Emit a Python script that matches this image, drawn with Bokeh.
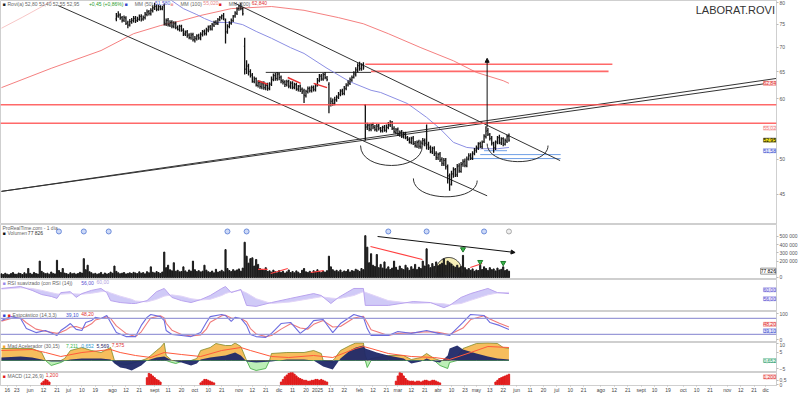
import numpy as np
from bokeh.plotting import figure
from bokeh.layouts import column
from bokeh.models import (Range1d, FixedTicker, Label, Arrow, NormalHead, Span,
                          NumeralTickFormatter)
from bokeh.embed import file_html
from bokeh.resources import INLINE

FONT = "Liberation Sans"

# ---------------- price bars (daily, bar index from 13 May 2024) ----------------
first_bar = 60
opens = [
    76.2, 76.9, 77.1, 76.5, 75.9, 76.4, 75.3, 74.9, 75.5, 75.8,
    76.4, 75.9, 76.1, 76.8, 76.2, 76.5, 77.2, 77.9, 77.4, 78.1,
    78.7, 79.2, 78.5, 79.1, 78.5, 79.3, 75.1, 75.9, 74.8, 75.5,
    74.5, 75.2, 74.3, 73.8, 74.6, 73.7, 72.8, 73.3, 72.6, 72.0,
    72.7, 71.5, 71.8, 72.5, 71.9, 72.7, 73.4, 72.9, 73.7, 74.4,
    73.9, 74.8, 75.5, 75.1, 76.1, 76.5, 77.0, 75.8, 73.4, 74.5,
    75.2, 75.8, 76.9, 77.5, 78.6, 79.3, 78.6, 70.2, 65.6, 66.2,
    65.1, 64.4, 63.1, 63.7, 62.4, 63.0, 62.1, 62.8, 61.9, 62.5,
    61.8, 62.7, 63.5, 64.3, 63.7, 64.6, 64.0, 63.2, 63.1, 62.5,
    63.2, 62.2, 62.9, 62.0, 62.6, 61.7, 62.3, 61.7, 61.4, 60.5,
    61.2, 61.9, 61.4, 62.1, 61.6, 62.5, 63.3, 64.2, 63.6, 64.5,
    63.8, 62.6, 59.0, 59.6, 59.0, 59.7, 60.3, 60.7, 61.4, 60.9,
    61.8, 62.5, 62.8, 63.4, 64.0, 64.5, 65.3, 66.3, 65.6, 66.4,
    58.8, 55.1, 55.4, 54.7, 55.5, 55.0, 54.6, 55.3, 54.8, 54.4,
    55.1, 54.5, 55.0, 55.4, 55.9, 54.8, 54.2, 54.7, 53.8, 54.3,
    53.5, 54.0, 53.3, 53.1, 52.6, 53.3, 52.4, 52.0, 52.7, 51.9,
    52.4, 52.8, 52.6, 52.3, 51.7, 51.1, 51.7, 50.9, 50.2, 50.8,
    50.0, 49.3, 49.9, 48.8, 47.5, 46.4, 47.8, 48.5, 47.7, 49.0,
    48.2, 49.3, 49.7, 49.0, 50.1, 50.6, 50.1, 50.8, 51.4, 51.7,
    52.4, 51.9, 52.7, 53.5, 54.5, 53.8, 53.3, 52.4, 51.7, 52.6,
    53.4, 52.5, 53.2, 52.3, 52.8, 53.6]
highs = [
    77.6, 78.0, 77.5, 76.9, 77.0, 76.8, 75.8, 76.2, 76.4, 76.9,
    76.9, 76.7, 77.2, 77.3, 77.0, 77.8, 78.4, 78.3, 78.7, 79.4,
    80.0, 79.6, 79.5, 79.4, 79.3, 79.8, 76.3, 76.4, 75.9, 75.9,
    75.7, 75.6, 74.7, 74.9, 74.9, 74.1, 73.6, 73.7, 73.0, 73.1,
    73.1, 72.4, 72.8, 72.9, 73.2, 73.7, 73.8, 74.2, 74.7, 74.8,
    75.3, 75.8, 75.9, 76.4, 76.9, 77.2, 77.6, 76.3, 75.0, 75.7,
    76.3, 77.1, 78.0, 78.9, 79.5, 80.0, 78.9, 72.0, 67.3, 66.6,
    65.5, 64.8, 64.1, 63.9, 63.4, 63.3, 63.2, 63.2, 62.9, 62.9,
    63.0, 64.1, 64.7, 64.8, 65.0, 64.9, 64.3, 63.6, 63.4, 63.5,
    63.5, 63.2, 63.2, 62.9, 62.9, 62.5, 62.6, 62.0, 61.8, 61.6,
    62.2, 62.2, 62.4, 62.4, 62.7, 63.8, 64.6, 64.6, 64.8, 65.0,
    64.2, 63.0, 60.2, 60.0, 60.3, 60.6, 61.2, 61.7, 61.8, 62.3,
    62.8, 63.4, 63.9, 64.3, 65.1, 65.9, 66.7, 67.0, 66.7, 66.9,
    59.0, 55.8, 55.6, 55.7, 55.8, 55.4, 55.6, 55.6, 55.1, 55.3,
    55.4, 55.5, 55.9, 56.2, 56.1, 55.2, 54.9, 55.0, 54.5, 54.6,
    54.3, 54.3, 53.6, 53.4, 53.5, 53.6, 52.8, 52.9, 53.0, 52.9,
    53.3, 53.2, 55.5, 52.7, 52.1, 51.9, 52.0, 51.2, 51.0, 51.1,
    50.3, 50.2, 50.2, 49.2, 47.9, 48.3, 48.8, 48.7, 49.3, 49.4,
    49.6, 50.0, 50.1, 50.4, 50.9, 50.9, 51.2, 51.7, 52.1, 52.6,
    52.7, 52.9, 53.9, 55.2, 54.9, 54.1, 53.6, 52.7, 52.9, 53.6,
    53.8, 53.4, 53.4, 53.2, 53.8, 54.0]
lows = [
    75.7, 76.5, 76.0, 75.4, 75.5, 74.8, 74.1, 74.5, 75.1, 75.4,
    75.3, 75.5, 75.8, 75.6, 75.8, 76.1, 76.8, 77.0, 77.0, 77.7,
    78.3, 78.0, 78.1, 78.2, 78.2, 74.7, 74.6, 74.5, 74.4, 74.1,
    74.1, 73.9, 73.6, 73.4, 73.3, 72.4, 72.4, 72.0, 71.7, 71.6,
    71.2, 71.0, 71.4, 71.6, 71.5, 72.3, 72.5, 72.5, 73.2, 73.6,
    73.6, 74.4, 74.8, 74.8, 75.7, 76.1, 75.9, 70.8, 72.9, 74.1,
    74.9, 75.5, 76.5, 77.1, 78.1, 78.2, 77.0, 64.5, 64.6, 64.3,
    63.9, 62.9, 62.8, 62.2, 62.0, 61.8, 61.7, 61.6, 61.5, 61.4,
    61.5, 62.3, 63.2, 63.3, 63.3, 63.4, 62.8, 62.6, 62.1, 62.2,
    61.9, 61.8, 61.7, 61.7, 61.4, 61.3, 61.2, 60.8, 59.2, 60.2,
    60.9, 61.1, 61.1, 61.3, 61.3, 62.2, 63.0, 63.3, 63.3, 63.6,
    63.2, 57.4, 58.6, 58.7, 58.8, 59.4, 59.9, 60.4, 60.6, 60.6,
    61.5, 62.2, 62.5, 63.1, 63.7, 64.1, 64.9, 65.2, 65.2, 65.4,
    52.9, 54.6, 54.4, 54.4, 54.7, 54.4, 54.3, 54.5, 54.2, 54.2,
    54.3, 54.2, 54.7, 55.1, 54.6, 54.0, 53.9, 53.6, 53.5, 53.3,
    53.2, 53.1, 52.8, 52.4, 52.3, 52.2, 51.8, 51.7, 51.6, 51.6,
    52.1, 52.0, 51.5, 51.4, 50.9, 50.8, 50.5, 49.9, 49.9, 49.6,
    49.0, 49.0, 48.5, 46.5, 45.5, 46.2, 47.3, 47.4, 47.4, 48.0,
    48.0, 48.9, 48.8, 48.8, 49.8, 49.9, 49.9, 50.6, 51.0, 51.4,
    51.7, 51.6, 52.5, 53.2, 53.6, 52.9, 52.1, 51.0, 51.4, 52.3,
    52.3, 52.2, 52.0, 52.1, 52.5, 52.7]
closes = [
    76.8, 77.2, 76.4, 75.9, 76.5, 75.2, 74.8, 75.6, 75.9, 76.3,
    75.8, 76.2, 76.7, 76.1, 76.6, 77.3, 77.8, 77.5, 78.2, 78.8,
    79.1, 78.4, 79.0, 78.6, 78.9, 75.3, 75.8, 74.9, 75.4, 74.6,
    75.1, 74.2, 73.9, 74.5, 73.6, 72.9, 73.2, 72.5, 72.1, 72.6,
    71.6, 71.9, 72.4, 72.0, 72.8, 73.3, 73.0, 73.8, 74.3, 74.0,
    74.9, 75.4, 75.2, 76.0, 76.6, 76.9, 76.2, 73.2, 74.6, 75.3,
    75.9, 76.8, 77.6, 78.5, 79.2, 78.7, 77.4, 65.5, 66.1, 65.0,
    64.3, 63.2, 63.6, 62.5, 62.9, 62.2, 62.7, 62.0, 62.4, 61.9,
    62.6, 63.6, 64.2, 63.8, 64.5, 63.9, 63.3, 63.0, 62.6, 63.1,
    62.3, 62.8, 62.1, 62.5, 61.8, 62.2, 61.6, 61.2, 60.6, 61.3,
    61.8, 61.5, 62.0, 61.7, 62.3, 63.4, 64.1, 63.7, 64.4, 63.9,
    63.5, 58.9, 59.5, 59.1, 59.8, 60.2, 60.8, 61.3, 61.0, 61.9,
    62.4, 62.9, 63.5, 63.9, 64.6, 65.4, 66.2, 65.7, 66.3, 65.8,
    55.0, 55.3, 54.8, 55.4, 55.1, 54.7, 55.2, 54.9, 54.5, 55.0,
    54.6, 55.1, 55.5, 55.8, 54.9, 54.3, 54.6, 53.9, 54.2, 53.6,
    53.9, 53.4, 53.0, 52.7, 53.2, 52.5, 52.1, 52.6, 52.0, 52.5,
    52.9, 52.4, 52.2, 51.8, 51.2, 51.6, 50.8, 50.3, 50.7, 49.9,
    49.4, 49.8, 48.9, 47.6, 46.3, 47.9, 48.4, 47.8, 48.9, 48.3,
    49.2, 49.6, 49.1, 50.0, 50.5, 50.2, 50.9, 51.3, 51.8, 52.3,
    52.0, 52.6, 53.6, 54.4, 53.9, 53.2, 52.5, 51.8, 52.7, 53.3,
    52.6, 53.1, 52.4, 52.9, 53.5, 52.95]

# volume in thousands, bars 0..265
volume_k = [
    45, 38, 52, 41, 35, 48, 60, 42, 39, 55,
    47, 36, 58, 44, 110, 51, 40, 62, 49, 43,
    200, 75, 58, 46, 53, 41, 67, 50, 44, 210,
    85, 62, 110, 54, 47, 39, 58, 45, 52, 41,
    49, 63, 55, 230, 95, 150, 70, 58, 44, 51,
    40, 47, 62, 38, 55, 43, 49, 66, 52, 140,
    75, 58, 46, 53, 61, 44, 50, 57, 48, 63,
    55, 47, 69, 52, 60, 45, 71, 58, 130, 64,
    56, 72, 61, 50, 67, 310, 120, 150, 95, 82,
    180, 76, 88, 69, 74, 130, 81, 66, 92, 78,
    200, 95, 73, 84, 68, 77, 150, 90, 71, 63,
    79, 58, 100, 66, 74, 88, 70, 340, 110, 85,
    72, 96, 81, 93, 105, 78, 115, 430, 260, 175,
    230, 240, 140, 220, 160, 110, 95, 88, 120, 75,
    82, 66, 90, 71, 58, 85, 63, 77, 54, 69,
    92, 60, 74, 57, 81, 65, 49, 88, 110, 70,
    62, 76, 55, 83, 68, 95, 72, 60, 79, 66,
    84, 260, 130, 95, 78, 88, 70, 92, 65, 80,
    73, 96, 68, 85, 77, 101, 90, 74, 110, 95,
    510, 370, 180, 290, 150, 135, 280, 120, 160, 115,
    190, 105, 130, 98, 115, 200, 125, 92, 140, 108,
    96, 150, 118, 88, 132, 104, 160, 97, 125, 110,
    200, 140, 350, 155, 120, 170, 135, 190, 145, 160,
    175, 230, 150, 200, 180, 165, 140, 125, 150, 118,
    135, 270, 120, 95, 110, 88, 105, 76, 92, 85,
    150, 98, 130, 110, 87, 120, 95, 105, 80, 115,
    92, 100, 130, 85, 96, 78]

# moving averages
ma50_idx = [88, 95, 102, 106, 111, 121, 126, 133, 141, 151, 158, 170, 181, 184,
            193, 198, 212, 222, 229, 236, 243, 250, 259, 265]
ma50_val = [80.8, 78.6, 77.2, 76.3, 75.4, 75.4, 74.9, 73.4, 71.9, 69.9, 68.7, 65.7,
            63.3, 62.8, 61.5, 61.1, 59.1, 56.7, 54.8, 52.6, 51.8, 51.6, 51.6, 51.8]
ma100_idx = [0, 11, 22, 30]
ma100_val = [74.1, 76.6, 79.3, 81.5]
ma200_idx = [0, 26, 52, 69, 83, 94, 104, 120, 141, 158, 176, 189, 202, 219, 236,
             248, 262, 265]
ma200_val = [62.0, 65.7, 69.3, 72.9, 74.7, 75.8, 77.0, 78.6, 79.1, 78.2, 76.5, 75.1,
             72.9, 69.9, 67.2, 64.9, 63.3, 62.8]

# smoothed RSI and its signal
rsi_idx = [0, 5, 10, 16, 21, 26, 29, 31, 36, 39, 42, 47, 52, 55, 57, 62, 68, 70, 76,
           81, 85, 89, 94, 99, 104, 109, 115, 117, 120, 125, 128, 133, 141, 151, 163,
           167, 172, 176, 184, 189, 190, 202, 215, 224, 231, 234, 240, 245, 254, 259, 265]
rsi_val = [72, 75, 78, 66, 53, 47, 41, 59, 62, 44, 56, 66, 72, 59, 34, 28, 25, 25, 34,
           62, 72, 44, 34, 28, 37, 50, 72, 78, 59, 69, 19, 16, 28, 41, 56, 50, 25, 44,
           72, 72, 19, 19, 31, 28, 12, 19, 44, 56, 72, 59, 56]
rsi_sig = [70, 72, 74, 72, 66, 59, 55, 54, 56, 55, 54, 57, 62, 63, 58, 48, 38, 33, 30,
           38, 48, 52, 48, 40, 36, 38, 50, 56, 62, 66, 58, 40, 25, 30, 42, 46, 42, 40,
           50, 62, 60, 34, 25, 27, 24, 21, 25, 35, 52, 58, 60]

# stochastic %K / %D
st_idx = [0, 5, 10, 13, 18, 23, 29, 31, 34, 36, 39, 42, 44, 47, 49, 52, 55, 57, 60, 65,
          70, 73, 76, 78, 83, 85, 86, 89, 94, 99, 104, 107, 109, 115, 117, 120, 122,
          125, 128, 130, 133, 138, 141, 146, 151, 156, 160, 163, 168, 173, 177, 184,
          189, 191, 193, 202, 207, 214, 222, 228, 234, 241, 245, 252, 255, 260, 265]
st_k = [72, 87, 80, 42, 27, 35, 16, 35, 50, 61, 39, 35, 65, 72, 84, 80, 91, 65, 27, 12,
        12, 54, 84, 95, 87, 72, 35, 20, 16, 12, 27, 65, 87, 95, 91, 69, 84, 80, 54, 20,
        12, 9, 24, 61, 65, 24, 46, 72, 76, 27, 61, 95, 84, 42, 16, 16, 31, 24, 35, 24,
        16, 65, 95, 91, 65, 54, 39]
st_d = [70, 80, 82, 64, 40, 32, 24, 28, 38, 48, 50, 42, 48, 60, 74, 80, 86, 80, 52, 24,
        12, 30, 62, 82, 90, 82, 62, 36, 20, 14, 18, 40, 66, 90, 92, 82, 80, 80, 68, 42,
        22, 12, 16, 40, 60, 44, 40, 58, 72, 48, 50, 82, 88, 64, 38, 16, 24, 26, 30, 28,
        20, 44, 76, 90, 78, 62, 48]

# "Mad Acelerador" oscillator: main (orange/green), navy component, red signal
mad_idx = [0, 16, 21, 23, 26, 31, 33, 36, 42, 47, 52, 57, 59, 60, 65, 68, 73, 76, 78,
           81, 83, 85, 86, 89, 91, 94, 99, 102, 104, 109, 112, 117, 120, 122, 125, 128,
           130, 133, 138, 140, 141, 149, 158, 163, 167, 168, 173, 174, 177, 182, 185,
           189, 190, 191, 193, 196, 202, 210, 214, 219, 222, 226, 229, 233, 234, 238,
           241, 248, 254, 259, 262, 265]
mad_main = [7.2, 7.2, 4.8, 0, -3.0, -1.2, 1.2, 6.0, 7.8, 6.0, 4.8, 7.8, 0, -1.8, -2.4,
            -1.8, 0, 1.2, 3.0, 6.0, 7.8, 10.5, 3.0, -1.2, -1.8, -0.6, 0, 1.2, 6.0, 7.8,
            10.2, 9.0, 9.0, 10.5, 8.4, 0, -4.8, -6.0, -4.8, 0, 4.2, 4.8, 4.8, 6.0, 4.2,
            0, -1.2, 1.2, 6.0, 9.0, 10.5, 10.5, 3.0, -4.2, 1.2, 1.8, 3.0, 3.0, 0.6, 1.8,
            4.2, 1.2, -3.0, -4.8, -1.2, 2.4, 7.2, 10.2, 10.5, 10.2, 7.8, 7.2]
navy_idx = [0, 10, 16, 21, 23, 26, 31, 36, 42, 52, 57, 59, 62, 65, 68, 73, 76, 81, 85,
            89, 94, 99, 102, 104, 109, 117, 122, 125, 128, 133, 141, 149, 158, 163, 168,
            173, 177, 182, 185, 189, 190, 196, 202, 210, 214, 219, 222, 226, 229, 233,
            234, 238, 241, 248, 254, 259, 265]
navy_val = [1.8, 2.4, 1.8, 0.6, 0, -0.6, -0.6, 0.6, 1.2, 1.2, 0.6, -1.8, -4.2, -4.8,
            -6.0, -3.0, 0, 1.8, 2.4, 0, -1.2, -3.0, -1.8, 0.6, 1.8, 3.0, 4.8, 3.0, -0.6,
            -1.2, -0.6, 0.6, 0.6, 0, -3.6, -5.4, 1.2, 6.0, 7.8, 9.0, 7.2, 4.8, 3.0, 1.2,
            -1.8, -0.6, 1.2, -0.6, -1.2, 3.0, 7.2, 9.0, 6.6, 4.2, 2.4, 1.2, 0.6]
red_idx = [0, 16, 23, 31, 42, 57, 62, 70, 78, 85, 94, 104, 115, 125, 130, 141, 150, 163,
           173, 185, 189, 193, 202, 214, 226, 234, 245, 254, 265]
red_val = [6.0, 6.6, 4.8, 2.4, 4.8, 6.6, 4.8, 3.0, 1.8, 4.8, 3.6, 2.4, 6.0, 7.8, 6.0,
           2.4, 1.8, 3.0, 1.8, 7.2, 8.4, 7.2, 4.2, 2.4, 1.8, 0.6, 4.8, 8.4, 7.8]

# MACD histogram (only the visible positive runs)
macd_start = [21, 76, 104, 146, 206, 258]
macd_vals = [
    [0.2, 0.4, 0.6, 0.5, 0.3],
    [0.8, 1.3, 1.2, 1.0, 0.8, 0.6, 0.5, 0.3],
    [0.2, 0.4, 0.6, 0.6, 0.5, 0.4, 0.3, 0.2],
    [0.3, 0.6, 0.9, 1.1, 1.3, 1.4, 1.4, 1.2, 1.0, 0.8, 0.7, 0.6, 0.5, 0.5, 0.4, 0.4,
     0.5, 0.5, 0.6, 0.6, 0.5, 0.6, 0.5, 0.4, 0.3],
    [0.4, 1.0, 1.4, 1.3, 1.0, 0.7, 0.5, 0.4, 0.4, 0.4, 0.3, 0.4, 0.4, 0.3, 0.4, 0.5,
     0.5, 0.4, 0.4, 0.5, 0.5, 0.4, 0.3, 0.2],
    [0.3, 0.5, 0.7, 0.8, 0.9, 1.0, 1.1, 1.2]]

# x axis (bar index -> label)
tick_idx = [3, 8, 15, 22, 29, 35, 42, 49, 58, 65, 72, 80, 87, 94, 101, 108, 115, 124,
            131, 138, 145, 152, 159, 165, 172, 179, 187, 194, 201, 207, 214, 221, 228,
            235, 242, 248, 255, 262, 269, 276, 283, 290, 297, 304, 313, 320, 327, 334,
            341, 348, 356, 363, 370, 379, 386, 393, 399]
tick_lbl = ["16", "23", "jun", "12", "21", "jul", "10", "19", "ago", "12", "21", "sept",
            "11", "20", "oct", "10", "21", "nov", "12", "21", "dic", "11", "20", "2025",
            "13", "22", "feb", "12", "21", "mar", "12", "21", "abr", "10", "23", "may",
            "13", "22", "jun", "11", "20", "jul", "10", "21", "ago", "12", "21", "sept",
            "10", "19", "oct", "10", "21", "nov", "12", "21", "dic"]
price_ticks = [45, 50, 60, 65, 70, 75, 80]

# drawn annotations (bar index, price)
chan_upper = (121.4, 80.0, 291.7, 49.8)
chan_lower = (29.7, 79.3, 253.6, 44.8)
trend_a = (0, 45.4, 407.8, 63.2)
trend_b = (0, 45.4, 407.8, 63.9)
red_full_levels = [58.9, 55.7]
red_short = [(190, 319, 66.5), (193, 317, 65.1)]
neckline = (138, 193, 64.9)
blue_levels = [(250, 292, 50.7), (245, 292, 50.1), (252, 264, 51.3)]
target_arrow = (253.6, 55.0, 253.6, 67.7)
arcs = [(187.5, 52.1, 219.8, 52.1, 48.1), (215.1, 47.2, 248.4, 46.9, 43.9),
        (253.6, 52.4, 285.4, 52.1, 48.8)]
red_ticks = [(134, 63.3, 139, 62.6), (149.5, 63.9, 156.3, 62.8), (163, 62.8, 170, 62.0)]

vol_red_line = (192.7, 378, 219.8, 220)
vol_arrow = (196.4, 500, 268.2, 305)
vol_dome = (233.6, 61, 7.0, 183)
vol_red_small = [(134, 100, 139, 100), (140.6, 49, 149.5, 110), (161.5, 61, 168.2, 85),
                 (244.8, 122, 251, 171)]
vol_flags_idx = [241, 250, 262]
vol_flags_val = [345, 190, 178]
event_idx = [30, 43, 56, 118, 128, 202, 222, 252]

# ---------------- layout helpers ----------------
X_END = 404.7
xr = Range1d(-0.5, X_END)


def make(h, yr, ytype="linear", bottom=0):
    p = figure(width=800, height=h, x_range=xr, y_range=yr, y_axis_type=ytype,
               x_axis_location=("below" if bottom else None), y_axis_location="right",
               toolbar_location=None, output_backend="svg",
               min_border_left=0, min_border_right=22, min_border_top=0,
               min_border_bottom=bottom)
    p.grid.visible = False
    p.outline_line_color = "#cfcfcf"
    p.background_fill_color = "white"
    p.border_fill_color = "white"
    ax = p.yaxis[0]
    ax.axis_line_color = "#cfcfcf"
    ax.major_tick_line_color = "#bbbbbb"
    ax.minor_tick_line_color = None
    ax.major_tick_out = 2
    ax.major_tick_in = 0
    ax.major_label_standoff = 1
    ax.major_label_text_font_size = "5px"
    ax.major_label_text_color = "#555555"
    ax.major_label_text_font = FONT
    return p


def header(p, x, y, parts):
    cx = x
    for t, c in parts:
        p.add_layout(Label(x=cx, y=y, text=t, text_font_size="5px", text_color=c,
                           text_baseline="top", text_font=FONT))
        cx += len(t) * 2.55 / 1.92


def rlabel(p, y, text, fg, bg):
    p.add_layout(Label(x=X_END - 0.3, y=y, text=text, text_font_size="5px",
                       text_color=fg, text_baseline="middle", text_align="right",
                       text_font=FONT, background_fill_color=bg,
                       border_line_color=fg, border_line_alpha=0.4))


# ---------------- main price panel ----------------
p1 = make(224, Range1d(41.1, 80.54), "log")
p1.yaxis.ticker = FixedTicker(ticks=price_ticks)
p1.yaxis.formatter = NumeralTickFormatter(format="0")

for lv in red_full_levels:
    p1.add_layout(Span(location=lv, dimension="width", line_color="#ff4f4f",
                       line_width=1.6, line_alpha=0.85))
for x0, x1, lv in red_short:
    p1.segment(x0, lv, x1, lv, line_color="#ff4f4f", line_width=1.6, line_alpha=0.85)
p1.segment(neckline[0], neckline[2], neckline[1], neckline[2], line_color="#333333",
           line_width=1)
for x0, x1, lv in blue_levels:
    p1.segment(x0, lv, x1, lv, line_color="#6f9fe6", line_width=1)

p1.line(ma200_idx, ma200_val, line_color="#f26a6a", line_width=1, line_alpha=0.85)
p1.line(ma100_idx, ma100_val, line_color="#f5b8b8", line_width=1, line_alpha=0.8)
p1.line(ma50_idx, ma50_val, line_color="#8c8fe3", line_width=1)

for (xa, ya, xb, yb) in (chan_upper, chan_lower):
    p1.segment(xa, ya, xb, yb, line_color="#333333", line_width=1)
for (xa, ya, xb, yb) in (trend_a, trend_b):
    p1.segment(xa, ya, xb, yb, line_color="#333333", line_width=1)
for (xa, ya, xb, yb, cy) in arcs:
    p1.bezier(x0=xa, y0=ya, x1=xb, y1=yb, cx0=xa, cy0=cy, cx1=xb, cy1=cy,
              line_color="#333333", line_width=1)

bx = np.arange(first_bar, first_bar + len(closes))
p1.segment(bx, lows, bx, highs, line_color="#111111", line_width=1.3)
p1.segment(bx - 0.45, opens, bx, opens, line_color="#111111", line_width=1)
p1.segment(bx, closes, bx + 0.45, closes, line_color="#111111", line_width=1)
for (xa, ya, xb, yb) in red_ticks:
    p1.segment(xa, ya, xb, yb, line_color="#e83030", line_width=1.5)

p1.add_layout(Arrow(end=NormalHead(size=4, fill_color="#111111", line_color="#111111"),
                    x_start=target_arrow[0], y_start=target_arrow[1],
                    x_end=target_arrow[2], y_end=target_arrow[3],
                    line_color="#111111", line_width=1))

p1.add_layout(Label(x=X_END - 0.8, y=78.3, text="LABORAT.ROVI", text_align="right",
                    text_baseline="middle", text_font_size="11px", text_color="#333333",
                    text_font=FONT))
header(p1, 0.5, 80.45, [("■ ", "#222222"), ("Rovi(a) 52,80 53,40 52,55 52,95 ", "#666666"),
                        ("+0,45 (+0,86%)", "#2a9a2a"), ("  ■ ", "#3848c8"),
                        ("MM (50) ", "#666666"), ("51,580", "#5060d0"),
                        ("  ■ ", "#f3a5a5"), ("MM (100) ", "#666666"),
                        ("55,020", "#e88888"), ("  ■ ", "#e02020"),
                        ("MM (200) ", "#666666"), ("62,840", "#e03030")])
rlabel(p1, 62.8, "62,84", "#e03030", "#fde3e3")
rlabel(p1, 54.9, "55,02", "#f07f7f", "#fff1f1")
rlabel(p1, closes[-1], "52,95", "#000000", "#f3e21c")
rlabel(p1, 51.3, "51,58", "#4050d0", "#e5e8fb")

# ---------------- volume panel ----------------
p2 = make(55, Range1d(-24, 646))
p2.yaxis.ticker = FixedTicker(ticks=[0, 200, 300, 400, 500])
p2.yaxis.major_label_overrides = {0: "0", 200: "200 000", 300: "300 000",
                                  400: "400 000", 500: "500 000"}
vx = np.arange(len(volume_k))
cx, cy, rx, ry = vol_dome
t = np.linspace(0, np.pi, 40)
dome_x = cx + rx * np.cos(t)
dome_y = cy + ry * np.sin(t)
p2.patch(dome_x, dome_y, fill_color="#f4ecaa", fill_alpha=0.85, line_color=None)
p2.vbar(x=vx, top=volume_k, bottom=0, width=0.6, color="#1a1a1a")
p2.line(dome_x, dome_y, line_color="#333333", line_width=1)
p2.segment(vol_red_line[0], vol_red_line[1], vol_red_line[2], vol_red_line[3],
           line_color="#ff4040", line_width=1.2)
for (xa, ya, xb, yb) in vol_red_small:
    p2.segment(xa, ya, xb, yb, line_color="#ff4040", line_width=1.2)
p2.add_layout(Arrow(end=NormalHead(size=4, fill_color="#111111", line_color="#111111"),
                    x_start=vol_arrow[0], y_start=vol_arrow[1],
                    x_end=vol_arrow[2], y_end=vol_arrow[3],
                    line_color="#111111", line_width=1))
p2.scatter(vol_flags_idx, vol_flags_val, marker="inverted_triangle", size=5,
           fill_color="#39b54a", line_color="#1d7a2a")
p2.scatter(event_idx, [561] * len(event_idx), marker="circle", size=5,
           fill_color="#cdd9f7", line_color="#6d8ddb")
p2.scatter([265], [561], marker="circle", size=5, fill_color="#eeeeee",
           line_color="#aaaaaa")
header(p2, 0.5, 643, [("ProRealTime.com - 1 día", "#666666")])
header(p2, 0.5, 575, [("■ ", "#111111"), ("Volumen ", "#666666"), ("77 826", "#333333")])
rlabel(p2, 78, "77 826", "#000000", "#ffffff")

# ---------------- smoothed RSI ----------------
p3 = make(32, Range1d(0, 100))
p3.yaxis.ticker = FixedTicker(ticks=[])
p3.varea(x=rsi_idx, y1=rsi_val, y2=rsi_sig, fill_color="#a99ff0", fill_alpha=0.55)
p3.line(rsi_idx, rsi_sig, line_color="#e2d4f7", line_width=1)
p3.line(rsi_idx, rsi_val, line_color="#b9a3ee", line_width=1)
header(p3, 0.5, 99, [("■ ", "#9a8ae8"), ("RSI suavizado (con RSI (14)) ", "#666666"),
                     ("56,00 ", "#5a50d0"), ("60,00", "#b0a0e0")])
rlabel(p3, 68, "60,00", "#5a50d0", "#ebe7fc")
rlabel(p3, 40, "56,00", "#5a50d0", "#ebe7fc")

# ---------------- stochastic ----------------
p4 = make(31, Range1d(-10.1, 106.1))
p4.yaxis.ticker = FixedTicker(ticks=[0, 100])
for lv in (80, 20):
    p4.add_layout(Span(location=lv, dimension="width", line_color="#9a9ad8",
                       line_width=1.2))
p4.line(st_idx, st_d, line_color="#f07a7a", line_width=1.1)
p4.line(st_idx, st_k, line_color="#6c6ce0", line_width=1.1)
header(p4, 0.5, 105.5, [("■ ", "#3040d0"), ("■ ", "#e02020"),
                        ("Estocástico (14,3,3) ", "#666666"), ("39,10 ", "#4050d0"),
                        ("48,20", "#e03030")])
rlabel(p4, 58, "48,20", "#e03030", "#fde5e5")
rlabel(p4, 34, "39,10", "#4050d0", "#e6e8fb")

# ---------------- Mad Acelerador ----------------
p5 = make(30, Range1d(-7.2, 10.8))
p5.yaxis.ticker = FixedTicker(ticks=[-5, 5, 10])
m = np.array(mad_main)
p5.varea(x=mad_idx, y1=0, y2=np.maximum(m, 0), fill_color="#f6b954", fill_alpha=0.95)
p5.varea(x=mad_idx, y1=0, y2=np.minimum(m, 0), fill_color="#b9eeb3", fill_alpha=0.95)
p5.line(mad_idx, np.maximum(m, 0), line_color="#7f8a2a", line_width=0.8)
p5.line(mad_idx, np.minimum(m, 0), line_color="#3aa83a", line_width=0.8)
p5.varea(x=navy_idx, y1=0, y2=navy_val, fill_color="#1f2868", fill_alpha=0.95)
p5.line(red_idx, red_val, line_color="#ff5a3c", line_width=1)
header(p5, 0.5, 10.7, [("■ ", "#f6a830"), ("Mad Acelerador (30,15) ", "#666666"),
                       ("7,211 ", "#39b54a"), ("0,652 ", "#2a9ad0"),
                       ("5,569 ", "#1f2868"), ("7,575", "#e03030")])
rlabel(p5, 0, "0,652", "#2a9a6a", "#e3f7ec")

# ---------------- MACD histogram + x axis ----------------
p6 = make(23, Range1d(-0.1, 1.4), bottom=8)
p6.yaxis.ticker = FixedTicker(ticks=[0, 0.5])
p6.yaxis.major_label_overrides = {0: "0", 0.5: "0,5"}
for s, vals in zip(macd_start, macd_vals):
    p6.vbar(x=np.arange(s, s + len(vals)), top=vals, bottom=0, width=0.7,
            color="#e01b1b")
header(p6, 0.5, 1.39, [("■ ", "#e01b1b"), ("MACD (12,26,9) ", "#666666"),
                       ("1,200", "#e03030")])
rlabel(p6, 0.9, "1,200", "#e03030", "#fde3e3")
xa = p6.xaxis[0]
xa.ticker = FixedTicker(ticks=tick_idx)
xa.major_label_overrides = {i: l for i, l in zip(tick_idx, tick_lbl)}
xa.axis_line_color = "#cfcfcf"
xa.major_tick_line_color = "#bbbbbb"
xa.minor_tick_line_color = None
xa.major_tick_out = 1
xa.major_tick_in = 0
xa.major_label_standoff = 0
xa.major_label_text_font_size = "5px"
xa.major_label_text_color = "#444444"
xa.major_label_text_font = FONT

layout = column(p1, p2, p3, p4, p5, p6, spacing=0)
open("out.html", "w").write(file_html(layout, INLINE, "LABORAT.ROVI"))
